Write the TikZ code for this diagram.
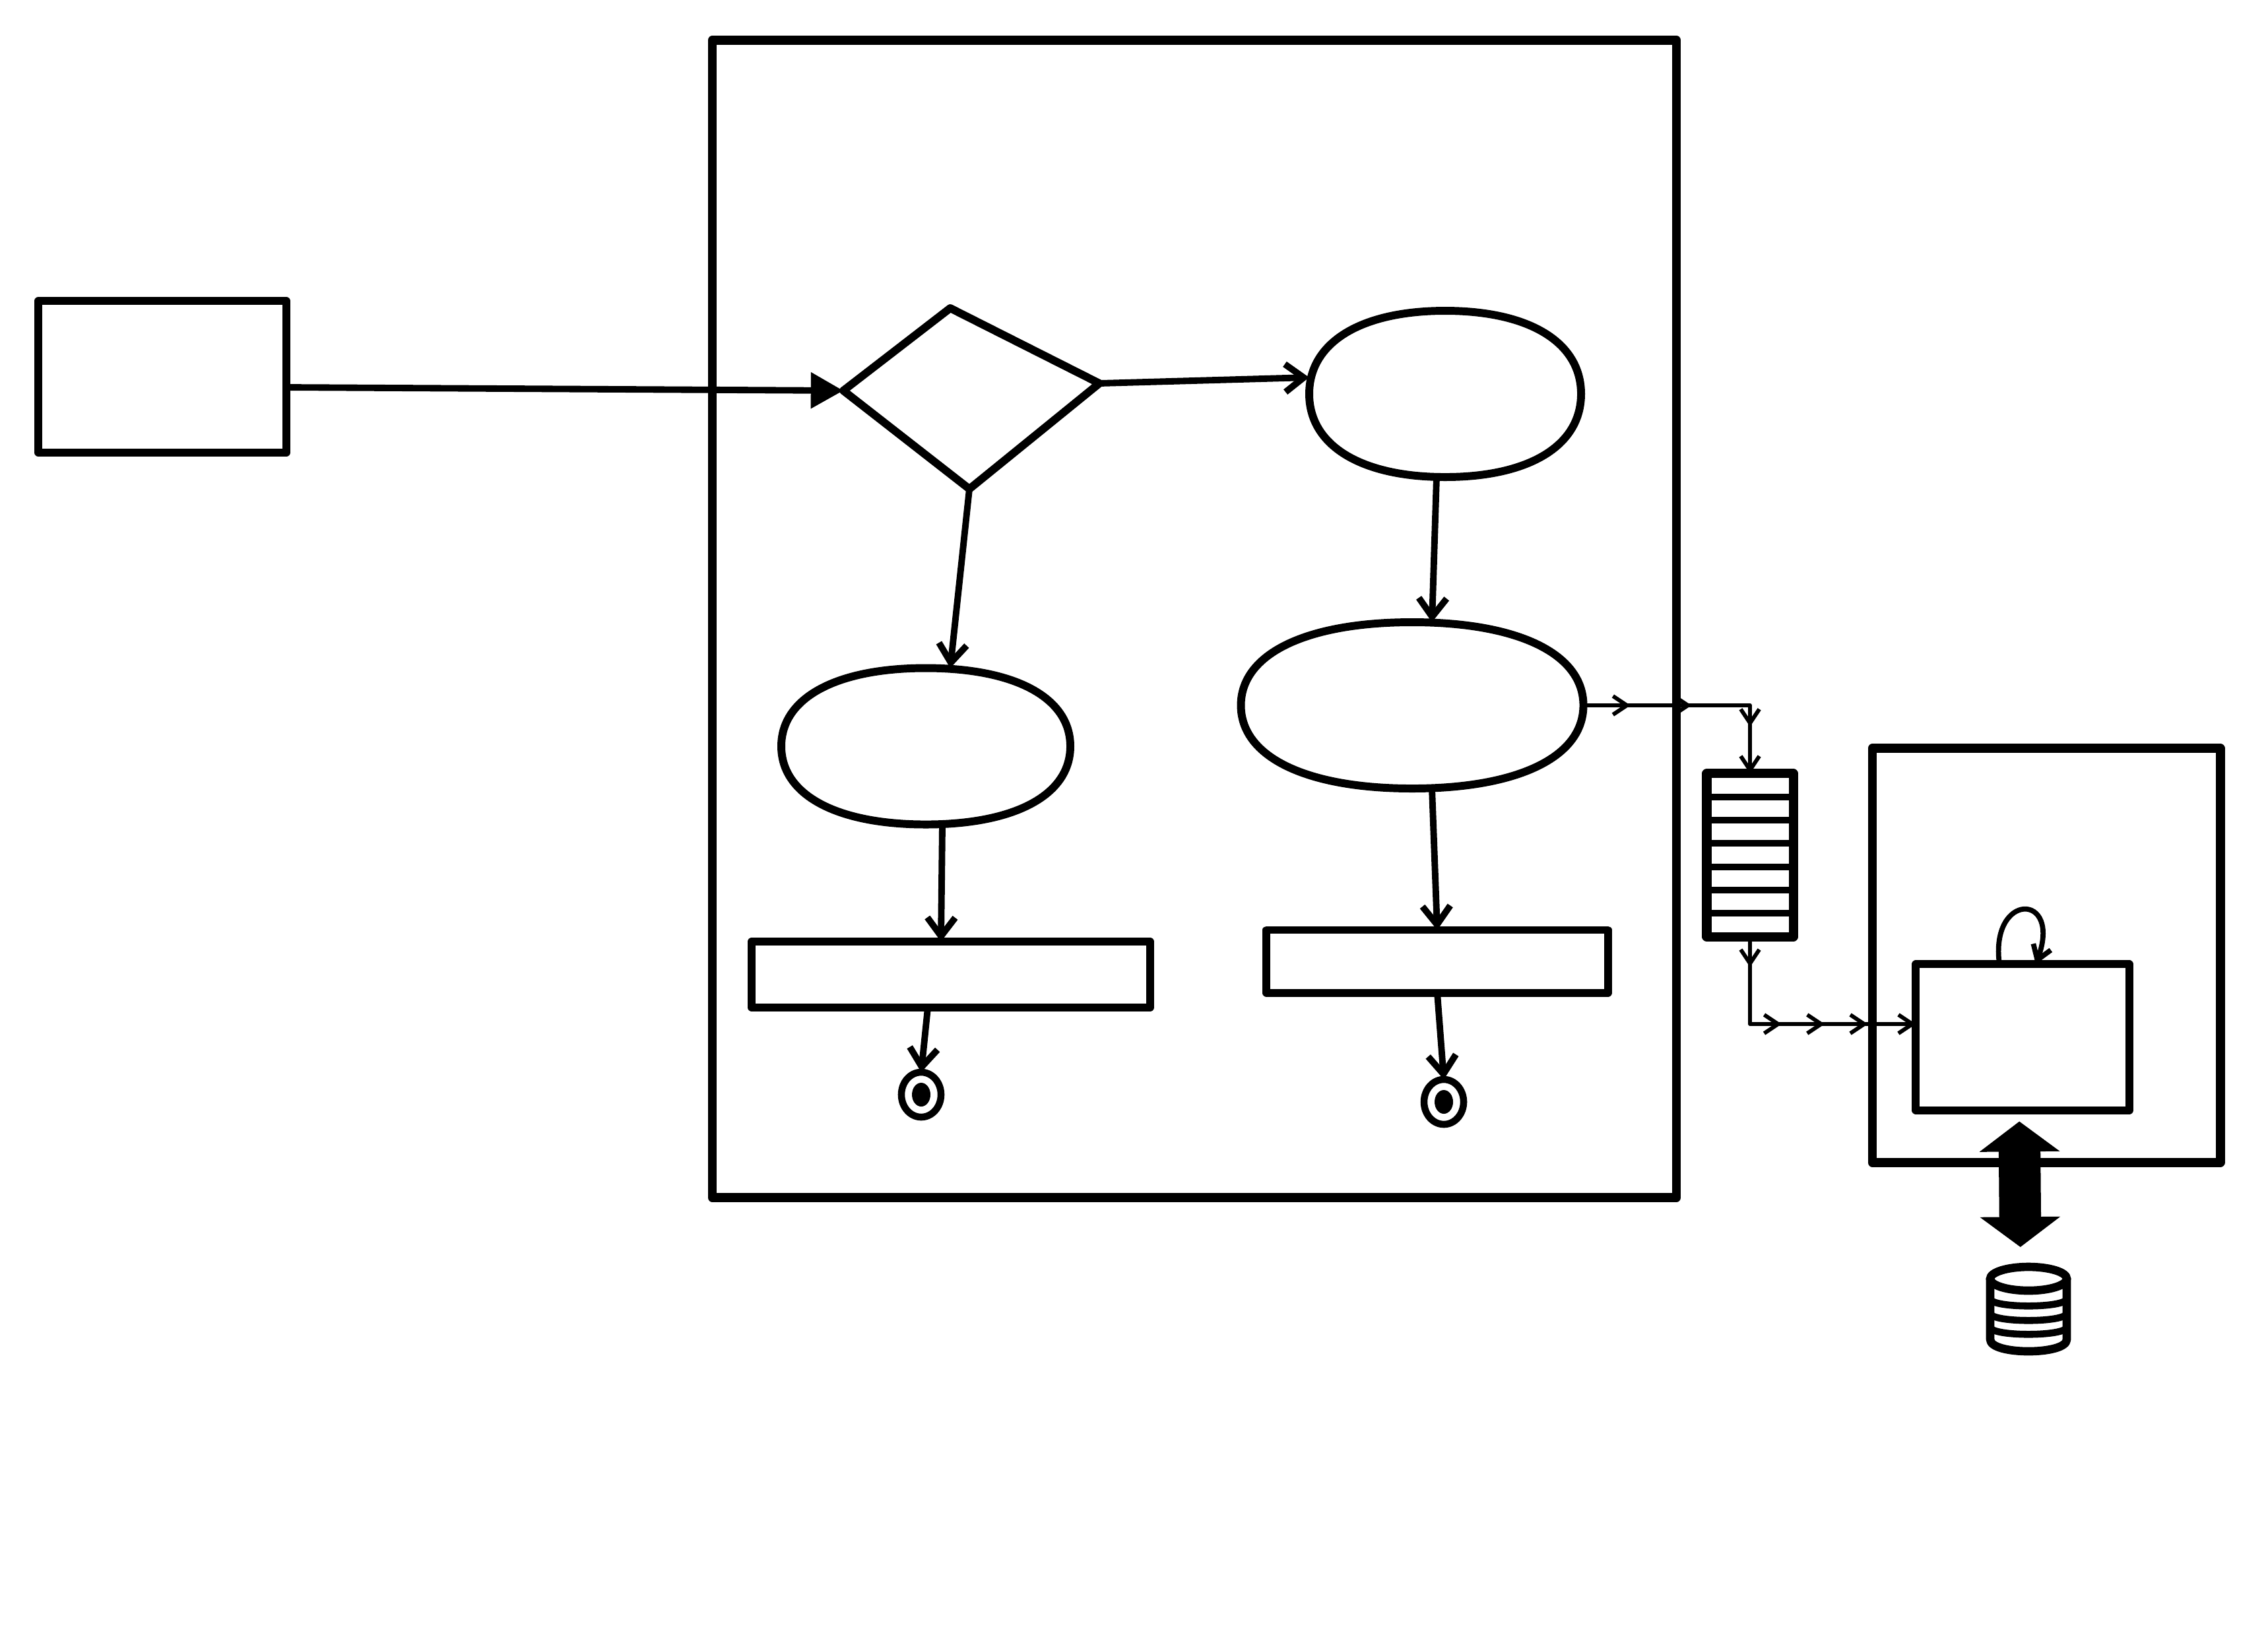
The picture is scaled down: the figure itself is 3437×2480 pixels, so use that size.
\documentclass[tikz,border=0pt]{standalone}
\usetikzlibrary{arrows.meta,shapes.geometric,decorations.markings,calc}
\tikzset{
  bigbarb/.tip={Straight Barb[length=8pt,width=12pt]},
  thinbarb/.tip={Straight Barb[length=6pt,width=8pt]},
  shp/.style={draw, line width=3.4pt, inner sep=0pt, outer sep=0pt, line join=round},
  cont/.style={shp, line width=3.9pt},
  blobanchor/.style={ellipse, inner sep=0pt, outer sep=0pt},
  blobline/.style={line width=3.4pt, line join=round},
  conn/.style={line width=2.8pt, line cap=round, -{bigbarb}},
  thinconn/.style={line width=1.7pt, line cap=round, line join=round, -{thinbarb}, postaction={decorate}},
  endnode/.style={ellipse, draw, line width=3pt, minimum width=0.6cm, minimum height=0.68cm, inner sep=0pt, outer sep=0pt},
  fatarrow/.style={line width=18pt, {Triangle[length=13pt,width=34pt]}-{Triangle[length=13pt,width=34pt]}}
}
% slightly squared ellipse: centre x, centre y, half width, half height
\newcommand\myblob[4]{%
  \draw[blobline] (#1+#3,#2)
    .. controls (#1+#3,#2+0.62*#4) and (#1+0.62*#3,#2+#4) .. (#1,#2+#4)
    .. controls (#1-0.62*#3,#2+#4) and (#1-#3,#2+0.62*#4) .. (#1-#3,#2)
    .. controls (#1-#3,#2-0.62*#4) and (#1-0.62*#3,#2-#4) .. (#1,#2-#4)
    .. controls (#1+0.62*#3,#2-#4) and (#1+#3,#2-0.62*#4) .. cycle;}
\begin{document}
\begin{tikzpicture}[x=0.01cm,y=-0.01cm]
\fill[white] (0,0) rectangle (3437,2480);
\useasboundingbox (0,0) rectangle (3437,2480);

% containers
\node[cont, minimum width=14.6cm, minimum height=17.53cm] (main) at (1810,938) {};
\node[cont, minimum width=5.27cm, minimum height=6.27cm] (right) at (3101,1448) {};

% left source box
\node[shp, minimum width=3.75cm, minimum height=2.3cm] (src) at (246,571) {};

% decision
\coordinate (dL) at (1278,592);
\coordinate (dT) at (1440,467);
\coordinate (dR) at (1666,581);
\coordinate (dB) at (1469,741);
\draw[shp] (dL) -- (dT) -- (dR) -- (dB) -- cycle;

% activities
\node[blobanchor, minimum width=4.12cm, minimum height=2.52cm] (E1) at (2190,597) {};
\myblob{2190}{597}{206}{126}
\node[blobanchor, minimum width=5.19cm, minimum height=2.52cm] (E2) at (2140,1069) {};
\myblob{2140}{1069}{259.5}{126}
\node[blobanchor, minimum width=4.38cm, minimum height=2.37cm] (E3) at (1403,1131) {};
\myblob{1403}{1131}{219}{118.5}

% bars
\node[shp, minimum width=6.03cm, minimum height=1.0cm] (R1) at (1441,1477) {};
\node[shp, minimum width=5.17cm, minimum height=0.95cm] (R2) at (2178,1457) {};

% end nodes
\node[endnode] (e1) at (1396,1659) {};
\fill (e1.center) ellipse [x radius=14, y radius=18];
\node[endnode] (e2) at (2188,1670) {};
\fill (e2.center) ellipse [x radius=14, y radius=18];

% queue
\node[shp, line width=4pt, minimum width=1.31cm, minimum height=2.47cm] (q) at (2652,1296) {};
\foreach \k in {1,...,6}
  \draw[line width=2.8pt] ($(q.north west)!\k/7!(q.south west)$) -- ($(q.north east)!\k/7!(q.south east)$);

% inner component
\node[shp, minimum width=3.23cm, minimum height=2.21cm] (inner) at (3065,1572) {};

% database
\node[inner sep=0pt, outer sep=0pt, minimum width=1.16cm, minimum height=1.3cm] (db) at (3074,1985) {};
\draw[line width=3.6pt, line join=round]
  (3016,1938) -- (3016,2030) .. controls (3016,2054) and (3132,2054) .. (3132,2030) -- (3132,1938);
\draw[line width=3.6pt] (3074,1938) ellipse [x radius=58, y radius=18];
\foreach \yy in {1968,1990,2011}
  \draw[line width=3pt] (3016,\yy) .. controls (3016,\yy+15) and (3132,\yy+15) .. (3132,\yy);

% connectors
\draw[line width=2.8pt, -{Triangle[length=14pt,width=15pt]}] ([yshift=-0.16cm]src.east) -- (dL);
\draw[conn] (dR) -- ([yshift=0.25cm]E1.west);
\draw[conn] (dB) -- ([xshift=0.37cm]E3.north);
\draw[conn] ([xshift=-0.13cm]E1.south) -- ([xshift=0.3cm]E2.north);
\draw[conn] ([xshift=0.25cm]E3.south) -- ([xshift=-0.15cm]R1.north);
\draw[conn] ([xshift=0.3cm]E2.south) -- (R2.north);
\draw[conn] ([xshift=-0.35cm]R1.south) -- (e1.north);
\draw[conn] (R2.south) -- (e2.north);

% flow to queue and onward
\draw[thinconn, decoration={markings,
    mark=at position 0.2 with {\arrow{thinbarb}},
    mark=at position 0.46 with {\arrow{thinbarb}},
    mark=at position 0.8 with {\arrow{thinbarb}}}]
  (E2.east) -| (q.north);
\draw[thinconn, decoration={markings,
    mark=at position 0.12 with {\arrow{thinbarb}},
    mark=at position 0.47 with {\arrow{thinbarb}},
    mark=at position 0.64 with {\arrow{thinbarb}},
    mark=at position 0.81 with {\arrow{thinbarb}}}]
  (q.south) |- ([yshift=0.2cm]inner.west);

% self loop
\draw[line width=2.2pt, -{thinbarb}]
  ([xshift=-0.35cm]inner.north) .. controls +(-15,-110) and +(40,-110) .. ([xshift=0.2cm]inner.north);

% fat double arrow to database
\draw[fatarrow, shorten <=0.17cm, shorten >=0.3cm] ([xshift=-0.05cm]inner.south) -- ([xshift=-0.12cm]db.north);
\end{tikzpicture}
\end{document}
